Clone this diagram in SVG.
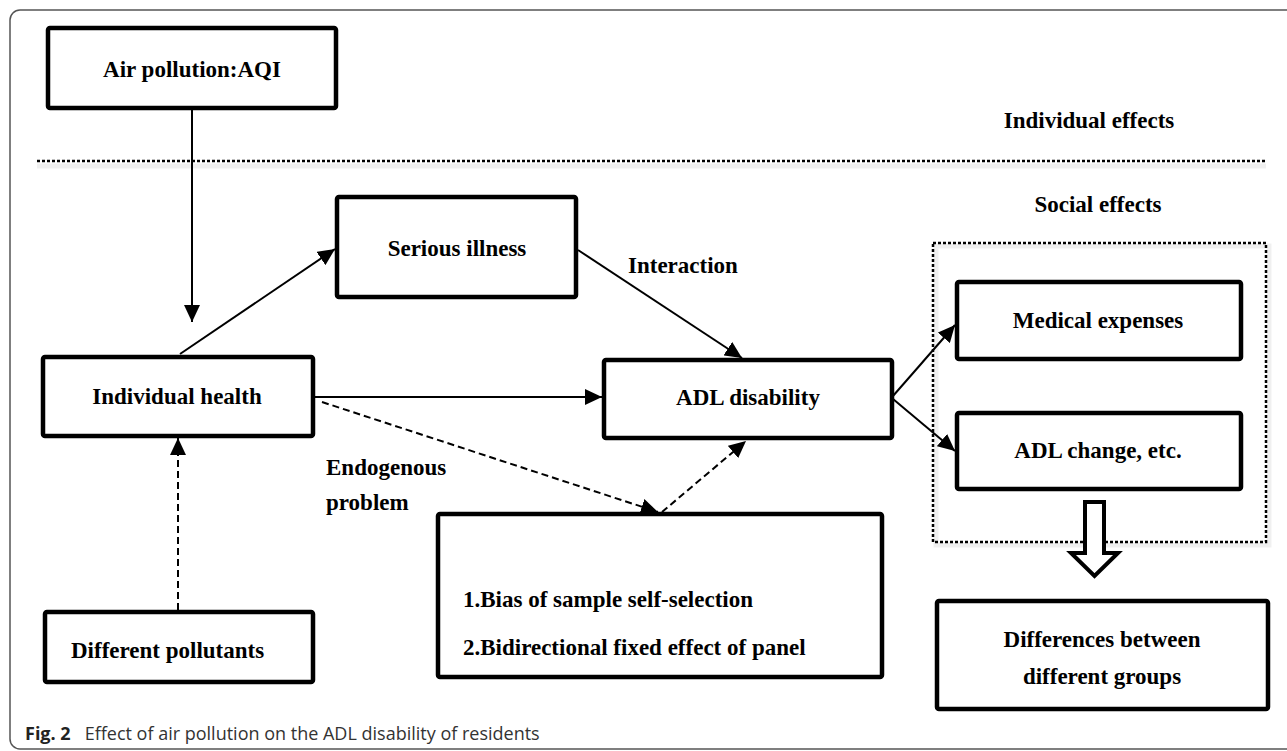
<svg xmlns="http://www.w3.org/2000/svg" width="1287" height="751" viewBox="0 0 1287 751">
<style>
.box{fill:#fff;stroke:#000;stroke-width:4.5}
.t{font-family:"Liberation Serif","Times New Roman",serif;font-weight:bold;font-size:23px;fill:#000}
.c{text-anchor:middle}
.ln{stroke:#000;stroke-width:2;fill:none}
.dash{stroke-dasharray:7 4}
.dot{stroke:#000;stroke-width:2.5;fill:none;stroke-dasharray:3 2}
.shadow{stroke:#000;stroke-opacity:0.06;stroke-width:5;fill:none}
.cap{font-family:"Open Sans","Noto Sans","Liberation Sans",sans-serif;font-size:18px;fill:#333}
</style>
<defs>
<marker id="ah" markerUnits="userSpaceOnUse" markerWidth="18" markerHeight="16" refX="17" refY="8" orient="auto">
<path d="M0,0 L17,8 L0,16 z" fill="#000"/>
</marker>
</defs>
<rect x="0" y="0" width="1287" height="751" fill="#fff"/>
<rect id="frame" x="10" y="10" width="1290" height="739" rx="10" fill="none" stroke="#555" stroke-width="1.5"/>

<g id="separator">
<line class="shadow" x1="37" y1="166" x2="1266" y2="166"/>
<line class="dot" x1="37" y1="161" x2="1266" y2="161"/>
</g>
<g id="social-frame">
<rect class="shadow" x="936" y="246" width="333" height="299"/>
<rect class="dot" x="933" y="243" width="333" height="299"/>
</g>

<g id="connectors">
<line class="ln" x1="192" y1="109" x2="192" y2="322" marker-end="url(#ah)"/>
<line class="ln" x1="180" y1="354" x2="335" y2="249" marker-end="url(#ah)"/>
<line class="ln" x1="578" y1="250" x2="742" y2="358" marker-end="url(#ah)"/>
<line class="ln" x1="315" y1="397" x2="602" y2="397" marker-end="url(#ah)"/>
<line class="ln dash" x1="322" y1="402" x2="658" y2="512" marker-end="url(#ah)"/>
<line class="ln dash" x1="662" y1="512" x2="746" y2="441" marker-end="url(#ah)"/>
<line class="ln dash" x1="178" y1="610" x2="178" y2="438" marker-end="url(#ah)"/>
<line class="ln" x1="893" y1="396" x2="955" y2="325" marker-end="url(#ah)"/>
<line class="ln" x1="893" y1="399" x2="955" y2="451" marker-end="url(#ah)"/>
<polygon points="1085,502 1104,502 1104,553 1118,553 1094.5,576 1071,553 1085,553" fill="#fff" stroke="#000" stroke-width="4"/>
</g>

<g id="air-pollution">
<rect class="box" x="48" y="28" width="288" height="80" rx="2"/>
<text class="t c" x="192" y="77">Air pollution:AQI</text>
</g>
<g id="individual-effects-label">
<text class="t c" x="1089" y="128">Individual effects</text>
</g>
<g id="social-effects-label">
<text class="t c" x="1098" y="212">Social effects</text>
</g>
<g id="serious-illness">
<rect class="box" x="337" y="197" width="239" height="100" rx="2"/>
<text class="t c" x="457" y="256">Serious illness</text>
</g>
<g id="interaction-label">
<text class="t" x="628" y="273">Interaction</text>
</g>
<g id="individual-health">
<rect class="box" x="43" y="357" width="270" height="79" rx="2"/>
<text class="t c" x="177" y="404">Individual health</text>
</g>
<g id="adl-disability">
<rect class="box" x="604" y="360" width="288" height="78" rx="2"/>
<text class="t c" x="748" y="405">ADL disability</text>
</g>
<g id="medical-expenses">
<rect class="box" x="957" y="282" width="284" height="77" rx="2"/>
<text class="t c" x="1098" y="328">Medical expenses</text>
</g>
<g id="adl-change">
<rect class="box" x="957" y="413" width="284" height="76" rx="2"/>
<text class="t c" x="1098" y="458">ADL change, etc.</text>
</g>
<g id="endogenous-label">
<text class="t" x="326" y="475">Endogenous</text>
<text class="t" x="326" y="510">problem</text>
</g>
<g id="endogenous-box">
<rect class="box" x="438" y="514" width="444" height="163" rx="2"/>
<text class="t" x="463" y="607">1.Bias of sample self-selection</text>
<text class="t" x="463" y="655">2.Bidirectional fixed effect of panel</text>
</g>
<g id="different-pollutants">
<rect class="box" x="45" y="612" width="268" height="70" rx="2"/>
<text class="t" x="71" y="658">Different pollutants</text>
</g>
<g id="differences">
<rect class="box" x="937" y="601" width="331" height="108" rx="2"/>
<text class="t c" x="1102" y="647">Differences between</text>
<text class="t c" x="1102" y="684">different groups</text>
</g>
<g id="caption">
<text class="cap" x="25" y="740"><tspan font-weight="bold" fill="#222">Fig. 2</tspan><tspan dx="14">Effect of air pollution on the ADL disability of residents</tspan></text>
</g>
</svg>
